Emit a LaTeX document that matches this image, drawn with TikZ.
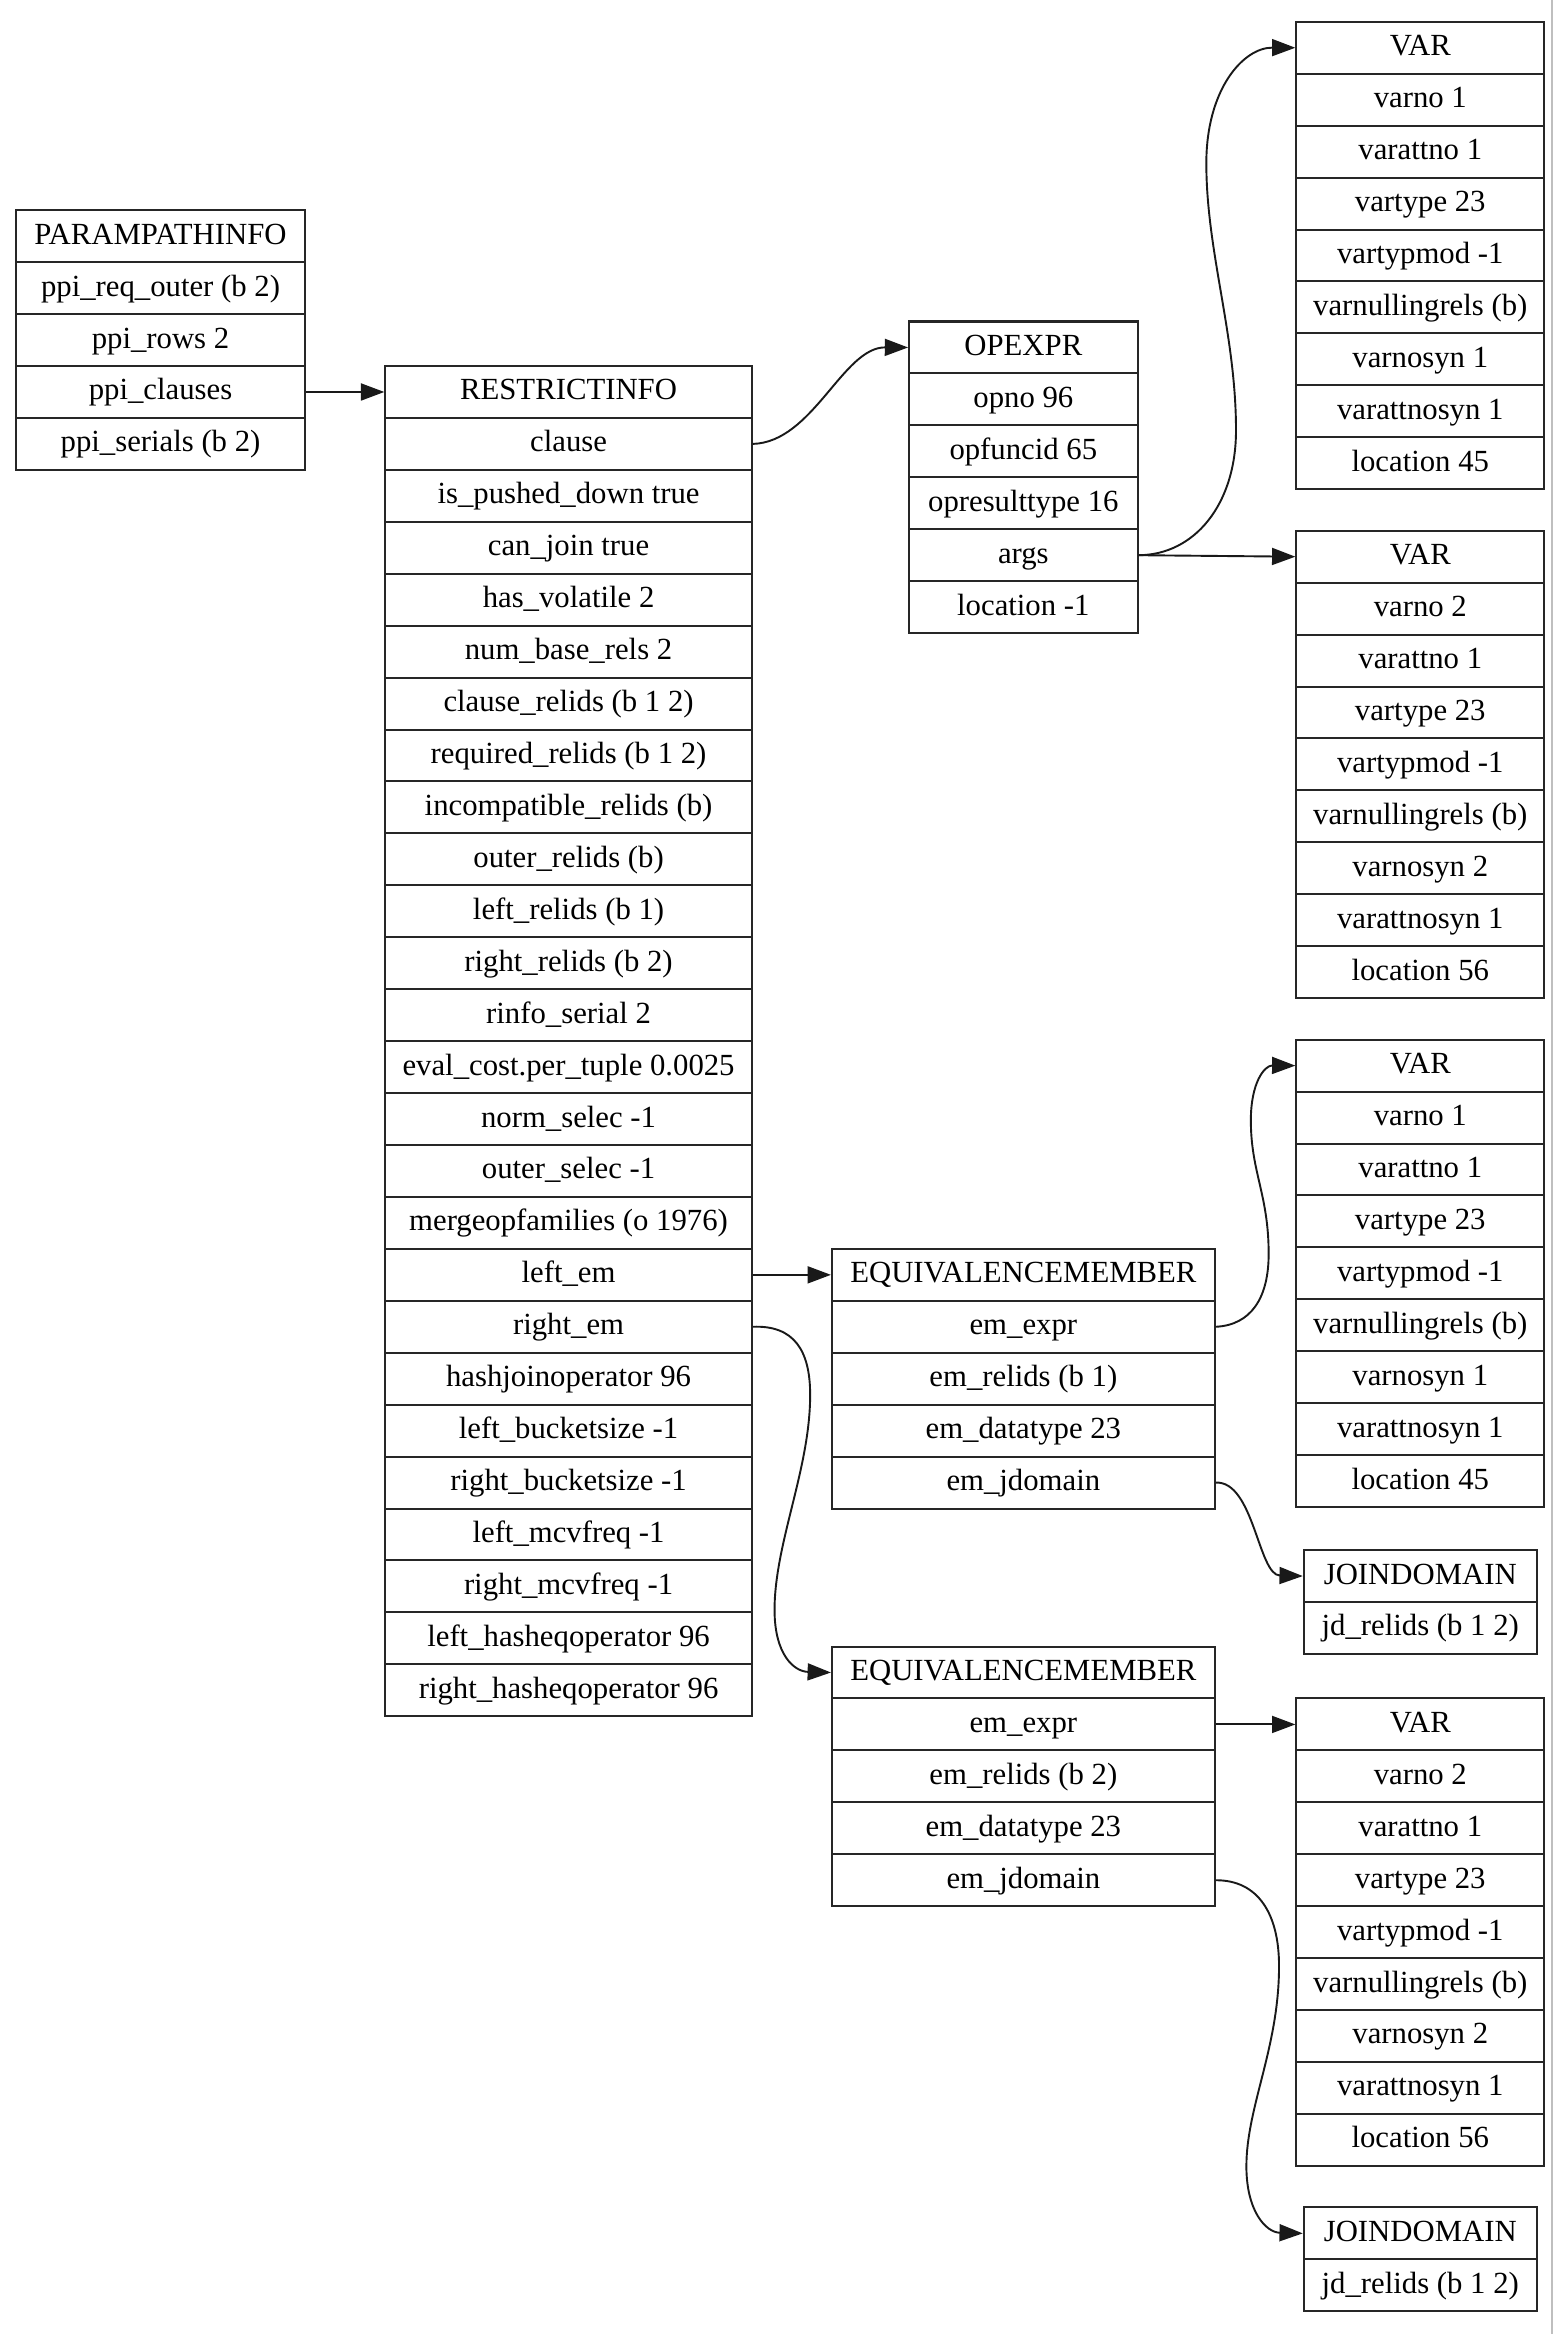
\documentclass[tikz,border=0pt]{standalone}
\usepackage{fontspec}
\setmainfont{Liberation Serif}
\usetikzlibrary{arrows.meta}
\newcommand\recbox[5]{%
  \foreach \rowtxt [count=\i] in {#5} {%
    \node[cell, minimum width=#3*0.7pt, anchor=north west] (#1-\i) at (#2,{#4+(\i-1)*35}) {\rowtxt};
  }%
}
\begin{document}
\begin{tikzpicture}[x=0.7pt,y=-0.7pt,
  cell/.style={draw=black!85, line width=0.95pt, minimum height=24.5pt, inner sep=0pt,
    text height=10.5pt, text depth=3pt, font=\fontsize{14.5}{16}\selectfont},
  arr/.style={draw=black!90, line width=0.9pt, -{Triangle[length=11pt,width=8pt]}}]
\useasboundingbox (0,0) rectangle (1050,1573);
\draw[gray!50, line width=0.6pt] (1046,0) -- (1046,1573);
\recbox{P}{10}{195}{141}{PARAMPATHINFO,ppi\_req\_outer (b 2),ppi\_rows 2,ppi\_clauses,ppi\_serials (b 2)}
\recbox{R}{259}{247}{246}{RESTRICTINFO,clause,is\_pushed\_down true,can\_join true,has\_volatile 2,num\_base\_rels 2,clause\_relids (b 1 2),required\_relids (b 1 2),incompatible\_relids (b),outer\_relids (b),left\_relids (b 1),right\_relids (b 2),rinfo\_serial 2,eval\_cost.per\_tuple 0.0025,norm\_selec -1,outer\_selec -1,mergeopfamilies (o 1976),left\_em,right\_em,hashjoinoperator 96,left\_bucketsize -1,right\_bucketsize -1,left\_mcvfreq -1,right\_mcvfreq -1,left\_hasheqoperator 96,right\_hasheqoperator 96}
\recbox{O}{612}{154}{216}{OPEXPR,opno 96,opfuncid 65,opresulttype 16,args,location -1}
\recbox{VA}{873}{167}{14}{VAR,varno 1,varattno 1,vartype 23,vartypmod -1,varnullingrels (b),varnosyn 1,varattnosyn 1,location 45}
\recbox{VB}{873}{167}{357}{VAR,varno 2,varattno 1,vartype 23,vartypmod -1,varnullingrels (b),varnosyn 2,varattnosyn 1,location 56}
\recbox{VC}{873}{167}{700}{VAR,varno 1,varattno 1,vartype 23,vartypmod -1,varnullingrels (b),varnosyn 1,varattnosyn 1,location 45}
\recbox{EA}{560}{258}{841}{EQUIVALENCEMEMBER,em\_expr,em\_relids (b 1),em\_datatype 23,em\_jdomain}
\recbox{JA}{878}{157}{1044}{JOINDOMAIN,jd\_relids (b 1 2)}
\recbox{EB}{560}{258}{1109}{EQUIVALENCEMEMBER,em\_expr,em\_relids (b 2),em\_datatype 23,em\_jdomain}
\recbox{VD}{873}{167}{1144}{VAR,varno 2,varattno 1,vartype 23,vartypmod -1,varnullingrels (b),varnosyn 2,varattnosyn 1,location 56}
\recbox{JB}{878}{157}{1487}{JOINDOMAIN,jd\_relids (b 1 2)}
% connectors
\draw[arr] (P-4.east) -- (R-1.west);
\draw[arr] (R-2.east) .. controls (548,298) and (568,234) .. (O-1.west);
\draw[arr] (O-5.east) .. controls (805,374) and (833,340) .. (833,290)
  .. controls (833,225) and (813,170) .. (813,110)
  .. controls (813,60) and (838,32) .. (VA-1.west);
\draw[arr] (O-5.east) -- (VB-1.west);
\draw[arr] (R-18.east) -- (EA-1.west);
\draw[arr] (R-19.east) .. controls (535,893) and (546,910) .. (546,940)
  .. controls (546,990) and (522,1040) .. (522,1085)
  .. controls (522,1115) and (535,1126.5) .. (EB-1.west);
\draw[arr] (EA-2.east) .. controls (843,893) and (855,875) .. (855,845)
  .. controls (855,805) and (843,790) .. (843,755)
  .. controls (843,730) and (852,718) .. (VC-1.west);
\draw[arr] (EA-5.east) .. controls (845,998) and (848,1061.5) .. (JA-1.west);
\draw[arr] (EB-2.east) -- (VD-1.west);
\draw[arr] (EB-5.east) .. controls (848,1267) and (862,1290) .. (862,1325)
  .. controls (862,1380) and (840,1420) .. (840,1460)
  .. controls (840,1490) and (853,1504.5) .. (JB-1.west);
\end{tikzpicture}
\end{document}
